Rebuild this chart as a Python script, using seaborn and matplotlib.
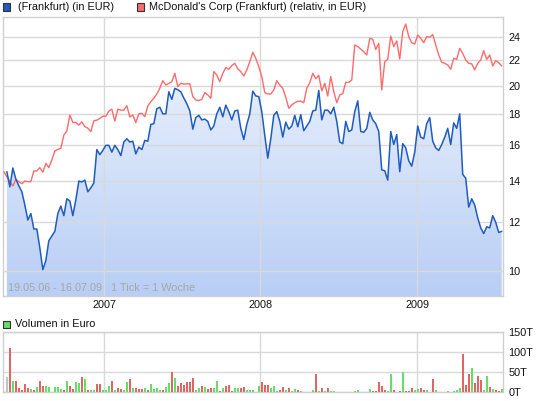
import matplotlib
matplotlib.use("Agg")
import matplotlib.pyplot as plt
from matplotlib.colors import LinearSegmentedColormap
from matplotlib.patches import Rectangle
from matplotlib.ticker import NullLocator
import numpy as np
import pandas as pd
import seaborn as sns

# weekly closing price (EUR)
price = [
    14.5, 13.7, 14.7, 14.1, 13.75, 13.45, 12.8, 12.1, 12.4, 11.7,
    11.7, 10.9, 10.05, 10.4, 11.2, 11.4, 11.6, 12.4, 12.75, 12.3,
    13.1, 13.0, 12.3, 13.05, 14.0, 13.95, 14.05, 13.45, 13.65, 13.9,
    15.75, 15.45, 15.7, 16.0, 16.0, 15.6, 16.0, 15.75, 15.4, 16.2,
    16.4, 16.2,
    16.25, 15.5, 15.9, 15.75, 16.3, 16.25, 17.3, 17.35, 18.35, 18.45,
    18.0, 18.0, 19.55, 19.0, 19.8, 19.7, 19.55, 19.1, 18.7, 18.2,
    17.0, 17.75, 17.9, 17.6, 17.65, 17.5, 16.95, 17.2, 18.0, 18.45,
    17.8, 18.6, 18.15, 17.6, 18.2, 18.25, 17.05, 16.35, 17.3, 18.0,
    19.6,
    19.25, 19.2, 18.15, 16.6, 15.25, 16.4, 17.9, 18.15, 17.5, 16.5,
    17.45, 17.0, 17.2, 17.9, 17.15, 17.95, 16.9, 17.2, 17.5, 18.2,
    18.25, 19.65, 17.6, 18.25, 18.25, 18.0, 18.45, 17.5, 16.2, 16.1,
    17.5, 16.85, 16.95, 18.15, 18.9, 16.85, 16.8, 17.05, 18.1, 17.6,
    17.35, 16.85,
    14.6, 14.55, 14.05, 16.85, 16.05, 16.65, 14.5, 16.1, 15.85, 15.1,
    14.8, 15.6, 17.2, 16.5, 16.4, 17.35, 17.75, 16.25, 15.85, 15.7,
    16.05, 16.5, 17.05, 16.05, 17.4, 17.05, 18.0, 14.35, 14.15, 12.7,
    13.1, 12.8, 12.2, 11.75, 11.5, 11.8, 11.75, 12.3, 12.0, 11.55,
    11.6,
]

# McDonald's relative line (starts one week earlier)
relative = [
    14.5,
    14.23, 13.97, 13.74, 14.09, 13.97, 13.86, 14.0, 13.97, 13.97, 14.54,
    14.54, 14.72, 14.47, 14.96, 14.72, 15.15, 15.66, 15.76, 15.82, 16.63,
    16.88, 17.92, 17.43, 17.43, 17.26, 17.47, 17.16, 17.06, 16.84, 17.54,
    17.58, 17.69, 17.84, 17.84, 18.18, 18.32, 17.52, 18.32, 18.25, 18.25,
    18.56, 17.8,
    17.92, 17.42, 18.0, 18.04, 17.81, 18.54, 18.84, 19.08, 19.39, 19.81,
    20.38, 20.05, 20.18, 20.3, 20.95, 19.93, 20.18, 20.12, 20.14, 20.14,
    19.2, 18.96, 18.92, 19.0, 19.49, 19.32, 19.08, 21.08, 20.82, 20.3,
    20.95, 21.4, 21.27, 21.56, 21.75, 21.3, 21.08, 20.74, 21.21, 21.88,
    22.66,
    22.16, 21.48, 20.69, 19.49, 19.39, 19.39, 19.68, 20.38, 20.05, 19.81,
    19.15, 18.38, 18.61, 18.77, 18.86, 18.88, 18.77, 19.81, 20.23, 20.95,
    20.53, 20.79, 19.61, 20.18, 19.24, 20.69, 19.56, 18.77, 19.32, 19.42,
    20.25, 20.25, 20.43, 23.29, 23.15, 22.94, 22.71, 22.43, 23.88, 23.79,
    22.9, 23.43,
    19.68, 21.88, 22.07, 24.08, 23.15, 23.64, 22.1, 24.48, 25.19, 24.03,
    23.49, 23.37, 24.18, 23.88, 23.49, 24.03, 23.98, 24.22, 23.29, 22.43,
    21.83, 21.75, 21.61, 21.27, 22.16, 22.07, 23.0, 22.57, 22.02, 21.75,
    21.7, 21.21, 21.75, 22.02, 22.8, 22.07, 22.43, 21.53, 21.97, 21.8,
    21.53,
]

# weekly volume in thousand EUR
volume = [
    37, 110, 27, 27, 10, 5, 19, 10, 7, 4,
    12, 27, 14, 14, 12, 1, 12, 12, 7, 4,
    27, 14, 7, 24, 22, 37, 33, 4, 4, 6,
    19, 19, 4, 4, 14, 27, 4, 9, 7, 4,
    24, 32, 9, 9, 7, 7, 9, 4, 19, 7,
    9, 6, 4, 12, 22, 50, 35, 14, 22, 17,
    24, 24, 35, 6, 9, 14, 12, 7, 9, 9,
    27, 2, 9, 14, 17, 2, 9, 9, 9, 12,
    4, 4, 6, 1, 14, 25, 17, 17, 9, 16,
    2, 6, 13, 4, 10, 3, 7, 5, 3, 1,
    1, 1, 5, 44, 3, 10, 3, 10, 3, 3,
    1, 1, 1, 1, 1, 1, 3, 5, 1, 1,
    1, 7, 3, 3, 26, 15, 5, 3, 44, 5,
    1, 3, 49, 3, 3, 10, 5, 8, 10, 5,
    5, 1, 33, 5, 1, 1, 1, 3, 1, 3,
    5, 10, 95, 18, 44, 59, 23, 40, 31, 5,
    40, 13, 8, 5, 3, 8,
]
# n = no change, g = up week, r = down week
vol_dir = ("nrgrrrrrgr" "grrggggggr" "grrggrgrgg" "rrgggrgrrg" "grgrrrgrgg"
           "ggrggrgrrr" "rrrggrgrrg" "grgrrrggrr" "gggggrrrgg" "grrgrggrgr"
           "gggrgrgrgg" "grggrgggrg" "ggrrrrrggr" "grgrrrggrr" "ggrggggggg"
           "ggrrrgrrrg" "grgrrg")

price_ticks = [10, 12, 14, 16, 18, 20, 22, 24]
vol_ticks = [0, 50, 100, 150]
vol_labels = ["0T", "50T", "100T", "150T"]
years = ["2007", "2008", "2009"]

dates = pd.date_range("2006-05-19", periods=len(price), freq="7D")
rel_dates = pd.date_range("2006-05-12", periods=len(relative), freq="7D")
year_pos = [pd.Timestamp(f"{y}-01-01") for y in years]
xlim = (dates[0] - pd.Timedelta(days=9), dates[-1] + pd.Timedelta(days=3))

sns.set_style("white")
plt.rcParams["font.family"] = ["Liberation Sans", "DejaVu Sans"]

W, H = 545, 401
FS = 7.8
fig = plt.figure(figsize=(W / 100, H / 100), dpi=100)


def box(x0, y0, x1, y1):
    return [x0 / W, 1 - y1 / H, (x1 - x0) / W, (y1 - y0) / H]


grid_col = "#d9d9d9"
ax = fig.add_axes(box(3, 17, 503, 296))
axv = fig.add_axes(box(3, 332, 503, 392))

# price panel
ax.set_yscale("log")
ax.set_axisbelow(False)
poly = ax.fill_between(dates, price, 1, color="none", lw=0)
grad = np.linspace(0, 1, 256).reshape(-1, 1)
cmap = LinearSegmentedColormap.from_list("fade", ["#b8cef5", "#f3f7fe"])
im = ax.imshow(grad, extent=[0, 1, 0, 1], transform=ax.transAxes, origin="lower",
               cmap=cmap, aspect="auto", zorder=1)
im.set_clip_path(poly.get_paths()[0], transform=poly.get_transform())

sns.lineplot(x=rel_dates, y=relative, ax=ax, color="#ff6a6a", lw=1.0, zorder=3)
sns.lineplot(x=dates, y=price, ax=ax, color="#1f5cbf", lw=1.1, zorder=4)

ax.set_xlim(*xlim)
ax.set_ylim(9.107, 25.86)
ax.yaxis.set_minor_locator(NullLocator())
ax.set_yticks(price_ticks)
ax.set_yticklabels([str(t) for t in price_ticks])
ax.yaxis.tick_right()
ax.set_xticks(year_pos)
ax.set_xticklabels(years)
ax.tick_params(axis="both", length=0, labelsize=FS, colors="#111111")
ax.tick_params(axis="y", pad=4)
ax.tick_params(axis="x", pad=3)
ax.grid(True, color=grid_col, lw=1.0, zorder=2)
ax.set_xlabel("")
ax.set_ylabel("")
for s in ax.spines.values():
    s.set_color("#cfcfcf")
    s.set_linewidth(1.0)
ax.text(0.01, 0.012, "19.05.06 - 16.07.09   1 Tick = 1 Woche", transform=ax.transAxes,
        color="#a6a6a6", fontsize=FS, va="bottom", ha="left", zorder=5)

# volume panel
colors = {"n": "#c4c4c4", "g": "#66dd66", "r": "#e06666"}
axv.bar(dates, volume, width=4.9, color=[colors[c] for c in vol_dir], lw=0,
        antialiased=False, zorder=3)
axv.set_xlim(*xlim)
axv.set_ylim(0, 150)
axv.set_yticks(vol_ticks)
axv.set_yticklabels(vol_labels)
axv.yaxis.tick_right()
axv.set_xticks(year_pos)
axv.set_xticklabels([])
axv.tick_params(axis="both", length=0, labelsize=FS, colors="#111111")
axv.tick_params(axis="y", pad=4)
axv.grid(True, color=grid_col, lw=1.0, zorder=0)
axv.set_axisbelow(True)
for s in axv.spines.values():
    s.set_color("#cfcfcf")
    s.set_linewidth(1.0)

# legends
def legend_item(x, y, color, label):
    fig.add_artist(Rectangle((x / W, 1 - (y + 3.5) / H), 7 / W, 7 / H,
                             transform=fig.transFigure, facecolor=color,
                             edgecolor="#333333", lw=0.8))
    fig.text((x + 12) / W, 1 - y / H, label, fontsize=FS, va="center", ha="left",
             color="#111111")


legend_item(3, 7, "#1f5cbf", " (Frankfurt) (in EUR)")
legend_item(137, 7, "#ff6a6a", "McDonald's Corp (Frankfurt) (relativ, in EUR)")
legend_item(3, 324, "#66dd66", "Volumen in Euro")

fig.savefig("out.png", dpi=100)
